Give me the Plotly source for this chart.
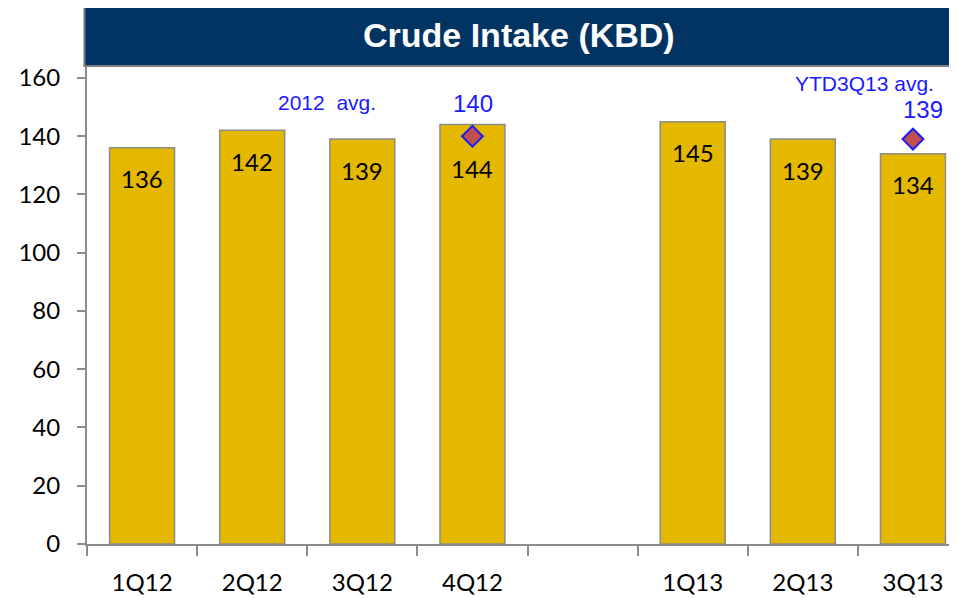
import plotly.graph_objects as go

categories = ["1Q12", "2Q12", "3Q12", "4Q12", " ", "1Q13", "2Q13", "3Q13"]
intake = [136, 142, 139, 144, None, 145, 139, 134]
label_shift = [-31, -31, -31, -44, 0, -31, -31, -31]
avg_cats = ["4Q12", "3Q13"]
avg_values = [140, 139]
avg_titles = ["2012&nbsp; avg.", "YTD3Q13 avg."]
y_ticks = [0, 20, 40, 60, 80, 100, 120, 140, 160]

LABEL_FONT = "Lato, 'Open Sans', sans-serif"

fig = go.Figure()
fig.add_trace(go.Bar(
    x=categories, y=intake,
    marker=dict(color="#E5B800", line=dict(color="#8C8C8C", width=1.5)),
    hoverinfo="skip",
))
fig.add_trace(go.Scatter(
    x=avg_cats, y=avg_values, mode="markers",
    marker=dict(symbol="diamond", size=16, color="#C0504D",
                line=dict(color="#1A1AFF", width=2)),
    hoverinfo="skip",
))

annotations = []
for c, v, s in zip(categories, intake, label_shift):
    if v is None:
        continue
    annotations.append(dict(x=c, y=v, text=str(v), showarrow=False, yshift=s,
                            yanchor="middle", font=dict(size=24, color="black", family=LABEL_FONT)))

# average annotations
annotations.append(dict(x=avg_cats[0], y=avg_values[0], text=str(avg_values[0]), showarrow=False,
                        yshift=33, yanchor="middle", xshift=1,
                        font=dict(size=24, color="#1A1AFF", family="Arial")))
annotations.append(dict(x=avg_cats[0], y=avg_values[0], text=avg_titles[0], showarrow=False,
                        yshift=34, yanchor="middle", xshift=-145,
                        font=dict(size=21, color="#1A1AFF", family="Arial")))
annotations.append(dict(x=avg_cats[1], y=avg_values[1], text=str(avg_values[1]), showarrow=False,
                        yshift=30, yanchor="middle", xshift=10,
                        font=dict(size=24, color="#1A1AFF", family="Arial")))
annotations.append(dict(x=avg_cats[1], y=avg_values[1], text=avg_titles[1], showarrow=False,
                        yshift=56, yanchor="middle", xshift=-48,
                        font=dict(size=21, color="#1A1AFF", family="Arial")))

# title bar text
annotations.append(dict(xref="paper", yref="paper", x=0.497, y=1.064, text="<b>Crude Intake (KBD)</b>",
                        showarrow=False, xanchor="center", yanchor="middle",
                        font=dict(size=34, color="white", family="Arial")))

fig.update_layout(
    width=957, height=598,
    margin=dict(l=79, r=8, t=58, b=62),
    plot_bgcolor="white", paper_bgcolor="white",
    showlegend=False,
    bargap=0.41,
    annotations=annotations,
    shapes=[dict(type="rect", xref="paper", yref="paper", x0=-0.003, x1=0.9966,
                 y0=1.0, y1=1.1276, fillcolor="#013462",
                 line=dict(color="#7F7F7F", width=2), layer="above")],
    xaxis=dict(
        type="category", range=[-0.5, 7.4], showgrid=False,
        showline=True, linecolor="#8C8C8C", linewidth=2,
        ticks="outside", tickson="boundaries", ticklen=10, tickcolor="#8C8C8C", tickwidth=1.5,
        tickfont=dict(size=24, color="black", family=LABEL_FONT),
        ticklabelstandoff=16,
    ),
    yaxis=dict(
        range=[0, 164.1], tickvals=y_ticks, showgrid=False, zeroline=False,
        showline=True, linecolor="#8C8C8C", linewidth=2,
        ticks="outside", ticklen=8, tickcolor="#8C8C8C", tickwidth=1.5,
        tickfont=dict(size=24, color="black", family=LABEL_FONT),
        ticklabelstandoff=12,
    ),
)

fig.write_html("out.html")
